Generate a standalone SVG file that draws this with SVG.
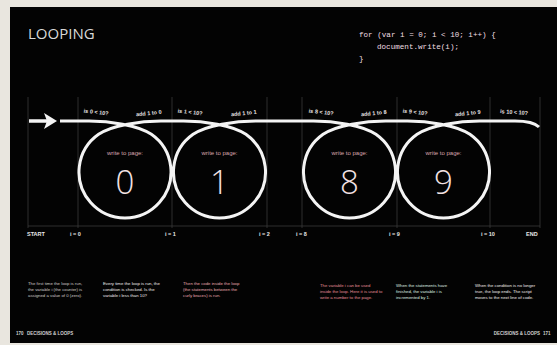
<svg xmlns="http://www.w3.org/2000/svg" width="557" height="345" viewBox="0 0 557 345">
<style>
.lbl{font-family:"Liberation Sans",Arial,sans-serif;font-size:5.5px;fill:#e6e0e0;font-weight:bold;text-anchor:middle}
.tick{font-family:"Liberation Sans",Arial,sans-serif;font-size:5.5px;fill:#e8e8e8;font-weight:bold}
.wtp{font-family:"Liberation Sans",Arial,sans-serif;font-size:6px;fill:#d9a6ae;text-anchor:middle}
.num{font-family:"Open Sans","Liberation Sans",sans-serif;font-weight:300;font-size:33px;fill:#f3e2e4;text-anchor:middle}
.ring{fill:none;stroke:#f4f4f4;stroke-width:3}
.vl{stroke:#3a3a3a;stroke-width:0.8}
.code{font-family:"Liberation Mono","DejaVu Sans Mono",monospace;font-size:7.6px;fill:#f0dfe2}
.para{font-family:"Liberation Sans",Arial,sans-serif;font-size:4.3px}
.foot{font-family:"Liberation Sans",Arial,sans-serif;font-size:4.5px;font-weight:bold;fill:#cfcfcf}
</style>
<rect x="0" y="0" width="557" height="345" fill="#e9e6df"/>
<rect x="10" y="7" width="547" height="336" fill="#030303"/>
<text x="28" y="39" font-family="Open Sans, Liberation Sans, sans-serif" font-size="15" fill="#d9d9d9">LOOPING</text>
<g id="code">
<text class="code" x="359" y="37">for (var i = 0; i &lt; 10; i++) {</text>
<text class="code" x="377" y="49">document.write(i);</text>
<text class="code" x="359" y="61">}</text>
</g>
<g id="grid">
<line class="vl" x1="28" y1="97" x2="28" y2="228"/>
<line class="vl" x1="78" y1="97" x2="78" y2="228"/>
<line class="vl" x1="172" y1="97" x2="172" y2="228"/>
<line class="vl" x1="267" y1="97" x2="267" y2="228"/>
<line class="vl" x1="302" y1="97" x2="302" y2="228"/>
<line class="vl" x1="397" y1="97" x2="397" y2="228"/>
<line class="vl" x1="490" y1="97" x2="490" y2="228"/>
<line class="vl" x1="540" y1="97" x2="540" y2="228"/>
<line class="vl" x1="28" y1="226" x2="540" y2="226"/>
</g>
<g id="connectors">
<line x1="29" y1="121" x2="50" y2="121" stroke="#f4f4f4" stroke-width="3.5"/>
<path d="M44,113 L57,121 L44,129 L47,121 Z" fill="#f4f4f4"/>
<path fill="none" stroke="#f4f4f4" stroke-width="3" d="M60,121 L89,121 C109,121 138,125 151.4,134.3 A46,46 0 1 1 98.6,134.3 C112,125 141,121 161,121 L183.5,121 C203.5,121 232.5,125 245.9,134.3 A46,46 0 1 1 193.1,134.3 C206.5,125 235.5,121 255.5,121 L313.5,121 C333.5,121 362.5,125 375.9,134.3 A46,46 0 1 1 323.1,134.3 C336.5,125 365.5,121 385.5,121 L407.5,121 C427.5,121 456.5,125 469.9,134.3 A46,46 0 1 1 417.1,134.3 C430.5,125 459.5,121 479.5,121 L515,121 C528,121 535,123 539,127"/>
</g>
<g id="loop0">
<text class="lbl" x="96" y="114" transform="rotate(6 96 114)">is 0 &lt; 10?</text>
<text class="lbl" x="149" y="115" transform="rotate(-6 149 115)">add 1 to 0</text>
<text class="wtp" x="125" y="155">write to page:</text>
<text class="num" x="125" y="194">0</text>
</g>
<g id="loop1">
<text class="lbl" x="190" y="114" transform="rotate(6 190 114)">is 1 &lt; 10?</text>
<text class="lbl" x="244" y="115" transform="rotate(-6 244 115)">add 1 to 1</text>
<text class="wtp" x="219.5" y="155">write to page:</text>
<text class="num" x="219.5" y="194">1</text>
</g>
<g id="loop8">
<text class="lbl" x="321" y="114" transform="rotate(6 321 114)">is 8 &lt; 10?</text>
<text class="lbl" x="374" y="115" transform="rotate(-6 374 115)">add 1 to 8</text>
<text class="wtp" x="349.5" y="155">write to page:</text>
<text class="num" x="349.5" y="194">8</text>
</g>
<g id="loop9">
<text class="lbl" x="415" y="114" transform="rotate(6 415 114)">is 9 &lt; 10?</text>
<text class="lbl" x="468" y="115" transform="rotate(-6 468 115)">add 1 to 9</text>
<text class="wtp" x="443.5" y="155">write to page:</text>
<text class="num" x="443.5" y="194">9</text>
</g>
<g id="loop10">
<text class="lbl" x="514" y="114" transform="rotate(4 514 114)">is 10 &lt; 10?</text>
</g>
<g id="ticks">
<text class="tick" x="27" y="236">START</text>
<text class="tick" x="70" y="236">i = 0</text>
<text class="tick" x="165" y="236">i = 1</text>
<text class="tick" x="259" y="236">i = 2</text>
<text class="tick" x="296" y="236">i = 8</text>
<text class="tick" x="389" y="236">i = 9</text>
<text class="tick" x="481" y="236">i = 10</text>
<text class="tick" x="526" y="236">END</text>
</g>
<g id="notes">
<text class="para" fill="#cfcaca" x="28" y="285">The first time the loop is run,<tspan x="28" dy="6">the variable i (the counter) is</tspan><tspan x="28" dy="6">assigned a value of 0 (zero).</tspan></text>
<text class="para" fill="#f2eeee" x="103" y="285">Every time the loop is run, the<tspan x="103" dy="6">condition is checked. Is the</tspan><tspan x="103" dy="6">variable i less than 10?</tspan></text>
<text class="para" fill="#e8a9b0" x="183" y="285">Then the code inside the loop<tspan x="183" dy="6">(the statements between the</tspan><tspan x="183" dy="6">curly braces) is run.</tspan></text>
<text class="para" fill="#e58f98" x="320" y="287">The variable i can be used<tspan x="320" dy="6">inside the loop. Here it is used to</tspan><tspan x="320" dy="6">write a number to the page.</tspan></text>
<text class="para" fill="#dfeee2" x="396" y="287">When the statements have<tspan x="396" dy="6">finished, the variable i is</tspan><tspan x="396" dy="6">incremented by 1.</tspan></text>
<text class="para" fill="#f2eeee" x="475" y="287">When the condition is no longer<tspan x="475" dy="6">true, the loop ends. The script</tspan><tspan x="475" dy="6">moves to the next line of code.</tspan></text>
</g>
<g id="footer">
<text class="foot" x="16" y="335">170</text>
<text class="foot" x="27" y="335">DECISIONS &amp; LOOPS</text>
<text class="foot" x="540" y="335" text-anchor="end">DECISIONS &amp; LOOPS</text>
<text class="foot" x="543" y="335">171</text>
</g>
</svg>
